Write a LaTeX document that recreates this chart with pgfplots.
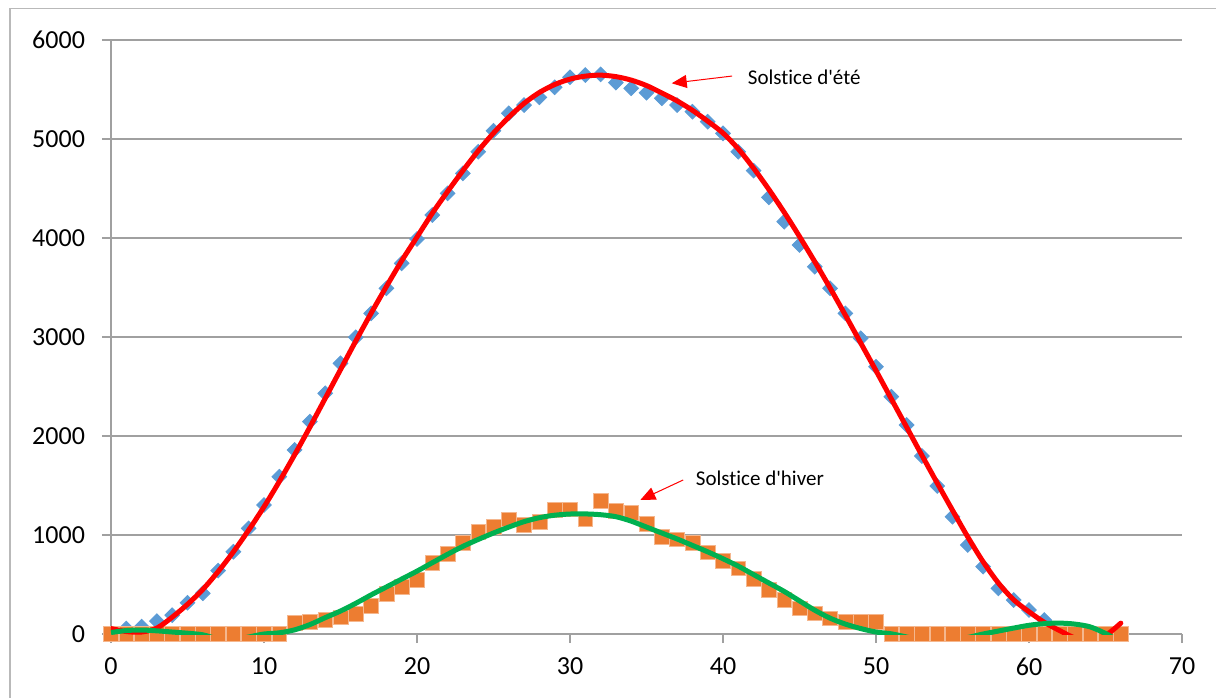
\documentclass[border=0pt]{standalone}
\usepackage{fontspec}
\setmainfont{Carlito}[Ligatures={TeXOff,NoCommon}]
\usepackage{pgfplots}
\pgfplotsset{compat=1.18}
\usetikzlibrary{arrows.meta}
\definecolor{xlblue}{RGB}{91,155,213}
\definecolor{xlorange}{RGB}{237,125,49}
\definecolor{xlgreen}{RGB}{0,176,80}
\definecolor{gridgray}{RGB}{160,160,160}

\begin{document}
\begin{tikzpicture}
\begin{axis}[
  at={(0,0)}, anchor=south west,
  scale only axis, width=535.5pt, height=297pt,
  xmin=0, xmax=70, ymin=0, ymax=6000,
  xtick={0,10,...,70}, ytick={0,1000,...,6000},
  axis lines*=left,
  axis line style={gridgray, line width=0.75pt},
  tick style={gridgray, line width=0.75pt},
  tick align=outside,
  major tick length=4.5pt,
  ymajorgrids, grid style={gridgray, line width=0.75pt},
  ticklabel style={font=\fontsize{13}{15}\selectfont, text=black},
  yticklabel style={xshift=-5pt},
  xticklabel style={yshift=-4pt},
  /pgf/number format/assume math mode=true,
  /pgf/number format/set thousands separator={},
  clip mode=individual,
]
% mesures (points)
\addplot[only marks, mark=square*, mark size=2.6pt,
  mark options={rotate=45, fill=xlblue, draw=xlblue}] coordinates {
(0,0) (1,55) (2,75) (3,130) (4,190) (5,316) (6,411) (7,640) (8,831) (9,1067)
(10,1303) (11,1589) (12,1859) (13,2145) (14,2431) (15,2734) (16,2997) (17,3239)
(18,3492) (19,3744) (20,3990) (21,4232) (22,4451) (23,4653) (24,4871) (25,5084)
(26,5259) (27,5343) (28,5421) (29,5522) (30,5623) (31,5646) (32,5653) (33,5569)
(34,5512) (35,5468) (36,5411) (37,5343) (38,5276) (39,5175) (40,5057) (41,4871)
(42,4680) (43,4410) (44,4165) (45,3929) (46,3710) (47,3492) (48,3239) (49,2987)
(50,2700) (51,2397) (52,2111) (53,1798) (54,1495) (55,1185) (56,899) (57,680)
(58,461) (59,343) (60,242) (61,141) (62,0) (63,0) (64,0) (65,0) (66,0)};
\addplot[only marks, mark=square*, mark size=3.7pt,
  mark options={fill=xlorange, draw=xlorange!55!white, line width=0.3pt}] coordinates {
(0,0) (1,0) (2,0) (3,0) (4,0) (5,0) (6,0) (7,0) (8,0) (9,0) (10,0) (11,0)
(12,115) (13,125) (14,141) (15,168) (16,202) (17,283) (18,404) (19,475) (20,545)
(21,717) (22,808) (23,922) (24,1033) (25,1080) (26,1158) (27,1101) (28,1134)
(29,1253) (30,1259) (31,1158) (32,1347) (33,1242) (34,1226) (35,1111) (36,983)
(37,956) (38,922) (39,825) (40,737) (41,663) (42,555) (43,444) (44,346) (45,259)
(46,209) (47,158) (48,125) (49,125) (50,125) (51,0) (52,0) (53,0) (54,0) (55,0)
(56,0) (57,0) (58,0) (59,0) (60,0) (61,0) (62,0) (63,0) (64,0) (65,0) (66,0)};
% courbes de tendance
\addplot[red, line width=2.5pt, smooth, no markers, line cap=round] coordinates {
(0,55) (1,25) (2,20) (3,60) (4,170) (5,300) (6,450) (7,630) (8,830) (9,1050)
(10,1285) (11,1540) (12,1810) (13,2090) (14,2380) (15,2670) (16,2960) (17,3240)
(18,3510) (19,3770) (20,4010) (21,4250) (22,4470) (23,4680) (24,4880) (25,5060)
(26,5220) (27,5360) (28,5470) (29,5550) (30,5605) (31,5635) (32,5645) (33,5630)
(34,5595) (35,5540) (36,5465) (37,5385) (38,5290) (39,5180) (40,5060) (41,4900)
(42,4705) (43,4490) (44,4260) (45,4015) (46,3760) (47,3495) (48,3220) (49,2940)
(50,2660) (51,2375) (52,2090) (53,1805) (54,1525) (55,1250) (56,980) (57,730)
(58,515) (59,345) (60,225) (61,118) (62,35) (63,-40) (64,-60) (65,-15) (66,110)};
\addplot[xlgreen, line width=2.5pt, smooth, no markers] coordinates {
(0,15) (1,35) (2,40) (3,32) (4,20) (5,8) (6,-8) (7,-50) (8,-60) (9,-30) (10,0)
(11,12) (12,42) (13,95) (14,165) (15,232) (16,310) (17,395) (18,475) (19,555)
(20,635) (21,720) (22,805) (23,885) (24,955) (25,1020) (26,1080) (27,1135)
(28,1175) (29,1200) (30,1212) (31,1213) (32,1205) (33,1185) (34,1140) (35,1080)
(36,1020) (37,960) (38,895) (39,830) (40,760) (41,685) (42,600) (43,515)
(44,430) (45,335) (46,240) (47,160) (48,100) (49,55) (50,20) (51,2) (52,-30)
(53,-60) (54,-75) (55,-65) (56,-35) (57,0) (58,30) (59,60) (60,88) (61,105)
(62,110) (63,100) (64,72) (65,5) (66,-80)};
% annotations
\node[anchor=west, font=\fontsize{10.5}{12}\selectfont, inner sep=0pt]
  at (axis cs:41.6,5626) {Solstice d'été};
\draw[red, line width=0.5pt, -{Triangle[length=7.5pt,width=6.5pt]}]
  (axis cs:40.6,5636) -- (axis cs:36.65,5563);
\node[anchor=west, font=\fontsize{10.5}{12}\selectfont, inner sep=0pt]
  at (axis cs:38.2,1576) {Solstice d'hiver};
\draw[red, line width=0.5pt, -{Triangle[length=7.5pt,width=6.5pt]}]
  (axis cs:37.4,1556) -- (axis cs:34.6,1354);
\end{axis}
\draw[gray!55, line width=0.75pt] (-50.5pt,-40pt) -- (-50.5pt,312.75pt) -- (560pt,312.75pt);
\pgfresetboundingbox
\path[use as bounding box] (-55.5pt,-31.5pt) rectangle (552.5pt,317pt);
\end{tikzpicture}
\end{document}
